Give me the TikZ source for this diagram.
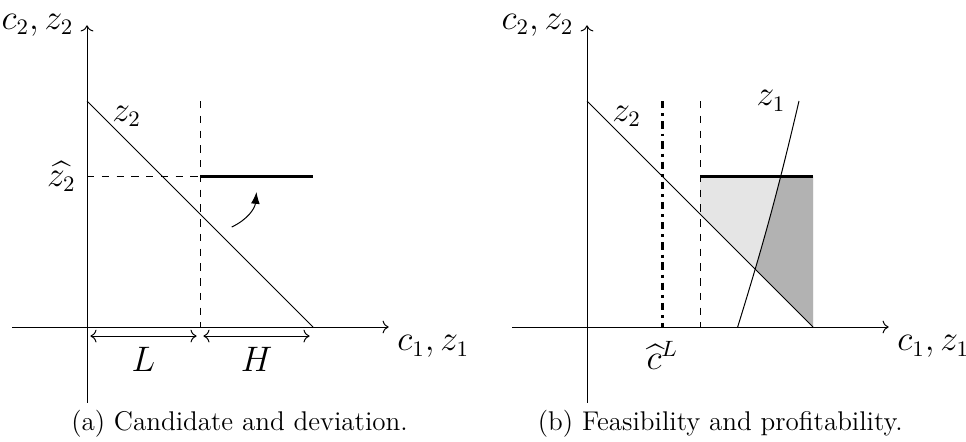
\documentclass[tikz,border=0pt]{standalone}
\usepackage{amsmath}
\usepackage{amssymb}
\usepackage{xcolor}
\usepackage{tikz}
\usetikzlibrary{arrows.meta, positioning}

\begin{document}
\begin{tikzpicture}[
  x=1.614cm, y=1.614cm,
  axis/.style={->},
  lbl/.style={font=\fontsize{13.5}{16}\selectfont},
  caplbl/.style={font=\fontsize{11}{13}\selectfont},
  guide/.style={dashed},
  bound/.style={very thick},
  span/.style={<->},
  lowfill/.style={fill=gray!20},
  highfill/.style={fill=gray!60}
]
  \useasboundingbox (-0.770,-1.009) rectangle (7.779,2.894);

  % (a) candidate and deviation
  \begin{scope}
    \coordinate (xa0) at (-0.66,0);
    \coordinate (xa1) at (2.67,0);
    \coordinate (ya0) at (0,-0.67);
    \coordinate (ya1) at (0,2.67);
    \coordinate (za0) at (0,2);
    \coordinate (za1) at (2,0);
    \coordinate (hata) at (0,4/3);
    \coordinate (cuta) at (1,4/3);
    \coordinate (enda) at (2,4/3);
    \coordinate (topa) at (1,2);
    \coordinate (bota) at (1,0);

    \draw[axis] (xa0) -- (xa1) node[below right, lbl] (c1a) {$c_1, z_1$};
    \draw[axis] (ya0) -- (ya1) node[left=2pt, lbl] (c2a) {$c_2, z_2$};
    \draw (za0) -- (za1);
    \node[lbl, anchor=south west, inner sep=0pt] (z2a) at (0.22,1.77) {$z_2$};
    \draw[guide] (topa) -- (bota);
    \draw[guide] (hata) -- (cuta);
    \node[lbl, left=1pt] (z2hat) at (hata) {$\widehat{z_2}$};
    \draw[bound] (cuta) -- (enda);

    \coordinate (from) at (1.28,0.885);
    \coordinate (to) at (1.5,1.195);
    \draw[-{Latex}] (from) to[bend right=30] (to);

    \draw[span] (0.03,-0.08) -- (0.97,-0.08);
    \draw[span] (1.03,-0.08) -- (1.97,-0.08);
    \node[lbl] (L) at (0.5,-0.29) {$L$};
    \node[lbl] (H) at (1.5,-0.29) {$H$};

    \node[caplbl] (capa) at (1.35,-0.86) {(a) Candidate and deviation.};
  \end{scope}

  % (b) feasibility and profitability
  \begin{scope}[xshift=4.425*1.614cm]
    \coordinate (xb0) at (-0.66,0);
    \coordinate (xb1) at (2.67,0);
    \coordinate (yb0) at (0,-0.67);
    \coordinate (yb1) at (0,2.67);
    \coordinate (zb0) at (0,2);
    \coordinate (zb1) at (2,0);
    \coordinate (z1b0) at (4/3,0);
    \coordinate (z1b1) at (1.876,2);
    \coordinate (cutb) at (1,4/3);
    \coordinate (endb) at (2,4/3);

    % shaded areas
    \fill[lowfill] (1,4/3) -- (2,4/3) -- (2,0) -- (1,1) -- cycle;
    \begin{scope}
      \clip (z1b0) to[bend right=2] (z1b1) -- (2.5,2) -- (2.5,0) -- cycle;
      \fill[highfill] (1,4/3) -- (2,4/3) -- (2,0) -- (1,1) -- cycle;
    \end{scope}

    \draw[axis] (xb0) -- (xb1) node[below right, lbl] (c1b) {$c_1, z_1$};
    \draw[axis] (yb0) -- (yb1) node[left=2pt, lbl] (c2b) {$c_2, z_2$};
    \draw (zb0) -- (zb1);
    \node[lbl, anchor=south west, inner sep=0pt] (z2b) at (0.22,1.77) {$z_2$};
    \draw (z1b0) to[bend right=2] (z1b1) node[left=2pt, lbl] (z1b) {$z_1$};
    \draw[very thick, dash dot] (2/3,2) -- (2/3,0) node[below=2pt, lbl] (cL) {$\widehat{c}^L$};
    \draw[guide] (1,2) -- (1,0);
    \draw[bound] (cutb) -- (endb);

    \node[caplbl] (capb) at (1.18,-0.86) {(b) Feasibility and profitability.};
  \end{scope}
\end{tikzpicture}
\end{document}
